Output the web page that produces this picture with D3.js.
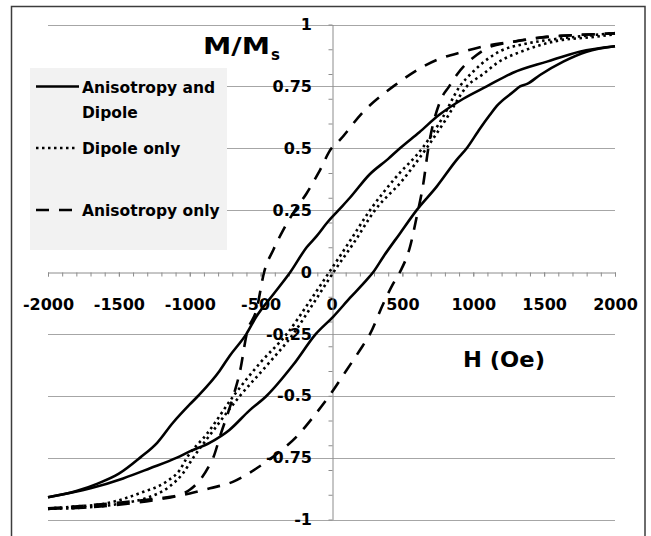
<!DOCTYPE html>
<html><head><meta charset="utf-8">
<script src="https://cdn.jsdelivr.net/npm/d3@7"></script>
<style>
html,body{margin:0;padding:0;background:#fff;}
svg{display:block;}
text{font-family:"DejaVu Sans",sans-serif;font-weight:bold;fill:#000;}
</style></head><body>
<svg id="chart" width="651" height="536"></svg>
<script>
// Hysteresis loops: [H (Oe), M/Ms] for each branch of each model
const bothDown = [[-2000,-0.91],[-1800,-0.885],[-1650,-0.855],[-1500,-0.815],[-1350,-0.75],[-1230,-0.69],[-1120,-0.61],[-1000,-0.535],[-940,-0.5],[-790,-0.40],[-720,-0.34],[-600,-0.25],[-530,-0.18],[-410,-0.09],[-290,0.0],[-175,0.10],[-105,0.145],[-30,0.2],[50,0.25],[130,0.30],[270,0.395],[400,0.457],[483,0.5],[620,0.565],[760,0.635],[930,0.70],[1095,0.75],[1280,0.805],[1520,0.85],[1750,0.89],[2000,0.912]];
const bothUp = [[-2000,-0.91],[-1700,-0.874],[-1470,-0.834],[-1280,-0.793],[-1090,-0.75],[-1000,-0.725],[-860,-0.69],[-720,-0.638],[-580,-0.56],[-457,-0.5],[-270,-0.375],[-110,-0.25],[13,-0.18],[130,-0.105],[248,-0.032],[295,0.0],[366,0.062],[483,0.156],[601,0.25],[742,0.345],[883,0.453],[954,0.5],[1048,0.58],[1118,0.635],[1165,0.67],[1283,0.728],[1330,0.75],[1380,0.76],[1471,0.796],[1635,0.85],[1800,0.89],[2000,0.912]];

const dipoleDown = [[-2000,-0.955],[-1820,-0.948],[-1590,-0.935],[-1350,-0.893],[-1160,-0.845],[-1070,-0.80],[-1020,-0.75],[-880,-0.655],[-690,-0.5],[-500,-0.365],[-315,-0.25],[-150,-0.115],[-15,0],[130,0.125],[272,0.25],[450,0.38],[640,0.5],[780,0.62],[905,0.75],[1000,0.81],[1100,0.86],[1200,0.895],[1350,0.92],[1500,0.935],[1750,0.952],[2000,0.965]];
const dipoleUp = [[-2000,-0.957],[-1750,-0.952],[-1500,-0.937],[-1300,-0.912],[-1150,-0.87],[-1050,-0.815],[-975,-0.75],[-820,-0.63],[-645,-0.5],[-460,-0.38],[-270,-0.25],[-120,-0.12],[15,0],[160,0.12],[307,0.25],[500,0.37],[670,0.5],[800,0.61],[955,0.75],[1070,0.80],[1170,0.845],[1360,0.895],[1600,0.935],[1820,0.948],[2000,0.96]];

const anisoDown = [[-2000,-0.955],[-1700,-0.942],[-1470,-0.93],[-1230,-0.915],[-1070,-0.90],[-1000,-0.88],[-950,-0.855],[-860,-0.78],[-834,-0.75],[-787,-0.665],[-692,-0.5],[-645,-0.40],[-598,-0.25],[-528,-0.15],[-475,0],[-410,0.09],[-340,0.17],[-257,0.25],[-175,0.318],[-81,0.412],[0,0.5],[37,0.52],[225,0.648],[436,0.75],[742,0.857],[930,0.89],[1100,0.915],[1280,0.93],[1520,0.95],[1750,0.958],[2000,0.964]];
const anisoUp = [[-2000,-0.957],[-1750,-0.952],[-1500,-0.94],[-1230,-0.92],[-1000,-0.895],[-857,-0.874],[-692,-0.847],[-528,-0.793],[-420,-0.75],[-387,-0.735],[-246,-0.665],[-128,-0.585],[-15,-0.5],[107,-0.396],[201,-0.315],[272,-0.25],[366,-0.127],[436,-0.046],[483,0],[554,0.102],[601,0.223],[648,0.358],[683,0.5],[765,0.688],[830,0.75],[883,0.796],[1024,0.877],[1100,0.905],[1280,0.93],[1520,0.95],[1750,0.958],[2000,0.964]];

const xMajorTicks = [-2000,-1500,-1000,-500,0,500,1000,1500,2000];
const yMajorTicks = [-1,-0.75,-0.5,-0.25,0,0.25,0.5,0.75,1];
const xMinorStep = 100;
const yMinorStep = 0.1;
const seriesNames = ["Anisotropy and Dipole","Dipole only","Anisotropy only"];
const legendLines = [["Anisotropy and","Dipole"],["Dipole only"],["Anisotropy only"]];

const styles = [
  {dash:null},
  {dash:"2.5,3.5"},
  {dash:"13,10"}
];
const branches = [[bothDown,bothUp],[dipoleDown,dipoleUp],[anisoDown,anisoUp]];

const svg = d3.select("#chart");

// chart frame
svg.append("rect").attr("x",11.5).attr("y",6.5).attr("width",633.5).attr("height",540)
  .attr("fill","#fff").attr("stroke","#3c3c3c").attr("stroke-width",1.5);

const x = d3.scaleLinear().domain([-2000,2000]).range([48,615]);
const y = d3.scaleLinear().domain([-1,1]).range([519.5,24.5]);
const x0 = x(0), y0 = y(0);

// horizontal gridlines
svg.append("g").selectAll("line").data(yMajorTicks.filter(v=>v!==0)).join("line")
  .attr("x1",x(-2000)).attr("x2",x(2000))
  .attr("y1",d=>Math.round(y(d))+0.5).attr("y2",d=>Math.round(y(d))+0.5)
  .attr("stroke","#a6a6a6").attr("stroke-width",1);

// x axis: minor ticks, then labelled major ticks
const xMinor = d3.range(-2000,2000+1,xMinorStep);
svg.append("g").attr("transform",`translate(0,${Math.round(y0)+0.5})`)
  .call(d3.axisBottom(x).tickValues(xMinor).tickSize(4).tickSizeOuter(0).tickFormat(""))
  .call(g=>{g.selectAll("path,line").attr("stroke","#8c8c8c");});
svg.append("g").attr("transform",`translate(0,${Math.round(y0)+0.5})`)
  .call(d3.axisBottom(x).tickValues(xMajorTicks).tickSize(4).tickSizeOuter(0).tickPadding(22.5).tickFormat(d=>String(d)))
  .call(g=>{
    g.select(".domain").remove();
    g.selectAll("line").attr("stroke","#8c8c8c");
    g.selectAll("text").attr("font-size",16).attr("font-family","DejaVu Sans").attr("font-weight","bold").attr("fill","#000");
  });

// y axis: minor ticks, labels to the left
const yMinor = d3.range(-10,11).map(i=>i*yMinorStep);
svg.append("g").attr("transform",`translate(${Math.round(x0)+0.5},0)`)
  .call(d3.axisLeft(y).tickValues(yMinor).tickSize(4).tickSizeOuter(0).tickFormat(""))
  .call(g=>{g.selectAll("path,line").attr("stroke","#8c8c8c");});
svg.append("g").attr("transform",`translate(${Math.round(x0)+0.5},0)`)
  .call(d3.axisLeft(y).tickValues(yMajorTicks).tickSize(0).tickSizeOuter(0).tickPadding(20.5).tickFormat(d=>String(d)))
  .call(g=>{
    g.select(".domain").remove();
    g.selectAll("text").attr("font-size",16).attr("font-family","DejaVu Sans").attr("font-weight","bold").attr("fill","#000");
  });

// loops
const line = d3.line().x(d=>x(d[0])).y(d=>y(d[1])).curve(d3.curveMonotoneX);
const plot = svg.append("g");
branches.forEach((pair,i)=>{
  pair.forEach(b=>{
    plot.append("path").datum(b).attr("d",line)
      .attr("fill","none").attr("stroke","#000").attr("stroke-width",2.6)
      .attr("stroke-dasharray",styles[i].dash);
  });
});

// axis titles
svg.append("text").attr("x",203).attr("y",53.5).attr("font-size",23)
  .attr("textLength",67).attr("lengthAdjust","spacingAndGlyphs").text("M/M");
svg.append("text").attr("x",271).attr("y",60).attr("font-size",15).text("s");
svg.append("text").attr("x",463).attr("y",366.5).attr("font-size",21)
  .attr("textLength",82).attr("lengthAdjust","spacingAndGlyphs").text("H (Oe)");

// legend
const lg = svg.append("g");
lg.append("rect").attr("x",30).attr("y",68).attr("width",197).attr("height",182).attr("fill","#f2f2f2");
const rowY = [86.5,148,210];
const lineEnds = [79,77,72];
legendLines.forEach((lines,i)=>{
  lg.append("line").attr("x1",36).attr("x2",lineEnds[i]).attr("y1",rowY[i]).attr("y2",rowY[i])
    .attr("stroke","#000").attr("stroke-width",2.6).attr("stroke-dasharray",styles[i].dash);
  lines.forEach((t,j)=>{
    lg.append("text").attr("x",82).attr("y",rowY[i]+6+j*25).attr("font-size",15.5).text(t);
  });
});
</script>
</body></html>
